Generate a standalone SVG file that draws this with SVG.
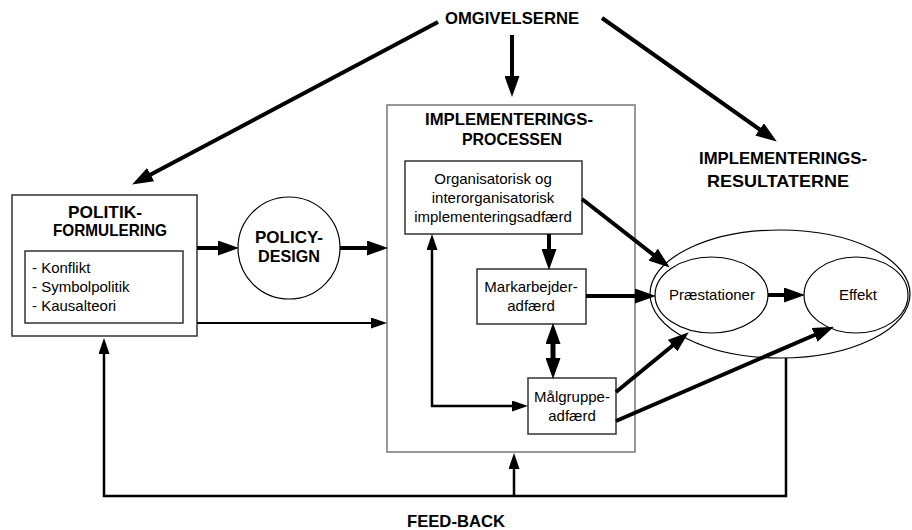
<svg xmlns="http://www.w3.org/2000/svg" width="912" height="530" viewBox="0 0 912 530">
<style>
  text { font-family: "Liberation Sans", Arial, sans-serif; fill: #000; }
  .t { font-size: 16.5px; font-weight: bold; text-anchor: middle; }
  .r { font-size: 15px; text-anchor: middle; }
  .l { font-size: 15px; }
  .box { fill: #fff; stroke: #333; stroke-width: 1.5; }
  .gbox { fill: #fff; stroke: #777; stroke-width: 1.5; }
  .ell { fill: #fff; stroke: #000; stroke-width: 1.2; }
  .thick { fill: none; stroke: #000; stroke-width: 4; }
  .thin { fill: none; stroke: #000; stroke-width: 2.5; }
  .ah { marker-end: url(#big); }
  .as { marker-end: url(#small); }
</style>
<defs>
  <marker id="big" markerUnits="userSpaceOnUse" markerWidth="21" markerHeight="15" refX="10" refY="7.5" orient="auto-start-reverse" viewBox="0 0 21 15">
    <path d="M0,0 L21,7.5 L0,15 z" fill="#000"/>
  </marker>
  <marker id="small" markerUnits="userSpaceOnUse" markerWidth="16" markerHeight="11" refX="8" refY="5.5" orient="auto-start-reverse" viewBox="0 0 16 11">
    <path d="M0,0 L16,5.5 L0,11 z" fill="#000"/>
  </marker>
</defs>

<rect width="912" height="530" fill="#fff"/>

<g id="omgivelserne">
  <text class="t" x="512" y="24" textLength="134" lengthAdjust="spacingAndGlyphs">OMGIVELSERNE</text>
</g>

<g id="politikformulering">
  <rect class="box" x="12" y="195" width="185" height="141"/>
  <text class="t" x="105" y="218" textLength="74" lengthAdjust="spacingAndGlyphs">POLITIK-</text>
  <text class="t" x="110" y="236" textLength="114" lengthAdjust="spacingAndGlyphs">FORMULERING</text>
  <rect class="box" x="25" y="251" width="158" height="72"/>
  <text class="l" x="32" y="273">- Konflikt</text>
  <text class="l" x="32" y="292">- Symbolpolitik</text>
  <text class="l" x="32" y="311">- Kausalteori</text>
</g>

<g id="policydesign">
  <circle class="ell" cx="289" cy="248" r="51"/>
  <text class="t" x="289" y="243" textLength="68" lengthAdjust="spacingAndGlyphs">POLICY-</text>
  <text class="t" x="289" y="262" textLength="62" lengthAdjust="spacingAndGlyphs">DESIGN</text>
</g>

<g id="implementeringsprocessen">
  <rect class="gbox" x="387" y="105" width="248" height="347"/>
  <text class="t" x="509" y="125" textLength="168" lengthAdjust="spacingAndGlyphs">IMPLEMENTERINGS-</text>
  <text class="t" x="512" y="145" textLength="100" lengthAdjust="spacingAndGlyphs">PROCESSEN</text>
</g>

<g id="organisatorisk">
  <rect class="box" x="405" y="161" width="177" height="73"/>
  <text class="r" x="493" y="184">Organisatorisk og</text>
  <text class="r" x="493" y="203">interorganisatorisk</text>
  <text class="r" x="493" y="222">implementeringsadfærd</text>
</g>

<g id="markarbejder">
  <rect class="box" x="477" y="269" width="109" height="55"/>
  <text class="r" x="531" y="292">Markarbejder-</text>
  <text class="r" x="531" y="311">adfærd</text>
</g>

<g id="maalgruppe">
  <rect class="box" x="528" y="378" width="88" height="56"/>
  <text class="r" x="572" y="402">Målgruppe-</text>
  <text class="r" x="572" y="421">adfærd</text>
</g>

<g id="resultaterne">
  <text class="t" x="783" y="164" textLength="168" lengthAdjust="spacingAndGlyphs">IMPLEMENTERINGS-</text>
  <text class="t" x="778" y="187" textLength="142" lengthAdjust="spacingAndGlyphs">RESULTATERNE</text>
  <ellipse class="ell" cx="780" cy="294" rx="130" ry="64"/>
</g>

<g id="praestationer">
  <ellipse class="ell" cx="711.5" cy="295" rx="56.5" ry="38"/>
  <text class="r" x="712" y="300">Præstationer</text>
</g>

<g id="effekt">
  <ellipse class="ell" cx="856" cy="295" rx="52" ry="38"/>
  <text class="r" x="858" y="300">Effekt</text>
</g>

<g id="feedback">
  <text class="t" x="456" y="527" textLength="98" lengthAdjust="spacingAndGlyphs">FEED-BACK</text>
</g>

<g id="connectors">
  <line class="thick ah" x1="438" y1="22" x2="141.8" y2="179.3"/>
  <line class="thick ah" x1="512" y1="35" x2="512" y2="86"/>
  <line class="thick ah" x1="602" y1="18" x2="767.8" y2="135.2"/>
  <line class="thick ah" x1="197" y1="248" x2="228" y2="248"/>
  <line class="thick ah" x1="340" y1="248" x2="377" y2="248"/>
  <line class="thin as" x1="197" y1="323" x2="379" y2="323" style="stroke-width:2"/>
  <line class="thick ah" x1="549" y1="234" x2="549" y2="259"/>
  <line class="thick ah" x1="553" y1="334" x2="553" y2="368" style="marker-start:url(#big);stroke-width:5"/>
  <path class="thin as" d="M432,242 L432,406 L520,406" style="marker-start:url(#small)"/>
  <line class="thick ah" x1="582" y1="199" x2="661.1" y2="260.8"/>
  <line class="thick ah" x1="586" y1="296" x2="645" y2="296"/>
  <line class="thick ah" x1="616" y1="392" x2="680.3" y2="339.3"/>
  <line class="thick ah" x1="616" y1="421" x2="823.8" y2="331"/>
  <line class="thick ah" x1="768" y1="295" x2="794" y2="295"/>
  <path class="thin as" d="M786,358 L786,496 L104,496 L104,346"/>
  <line class="thin as" x1="514" y1="496" x2="514" y2="461"/>
</g>
</svg>
